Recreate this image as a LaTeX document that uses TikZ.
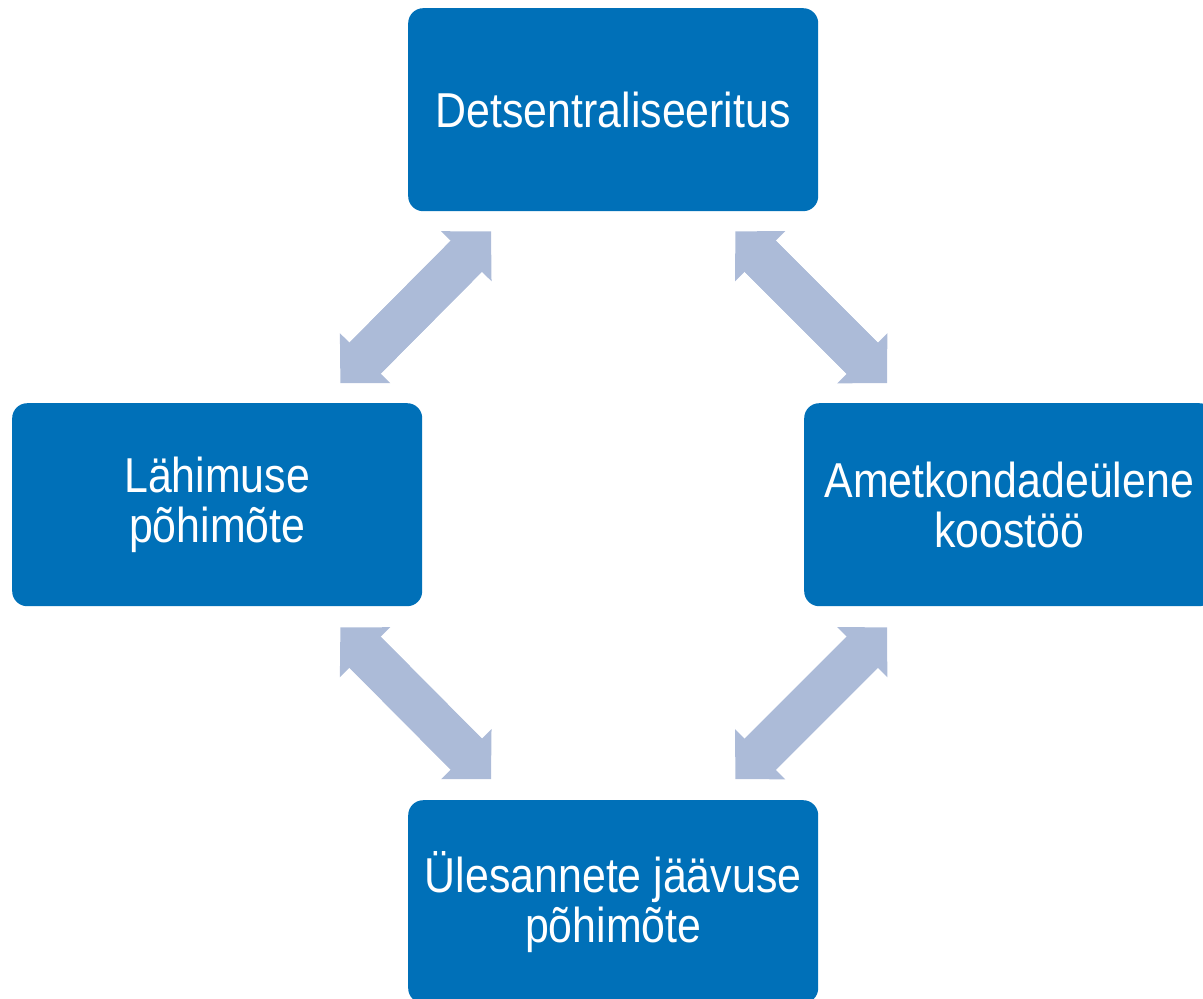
\documentclass[tikz,border=0pt]{standalone}
\usepackage{fontspec}
\setmainfont[FakeStretch=0.875]{Liberation Sans}
\usetikzlibrary{arrows.meta}
\definecolor{boxblue}{RGB}{0,112,184}
\definecolor{arrowblue}{RGB}{172,187,216}
\begin{document}
\begin{tikzpicture}[x=1pt,y=-1pt]
\useasboundingbox (0,0) rectangle (1203,999);
\clip (0,0) rectangle (1203,999);
\begin{scope}

\tikzstyle{box} = [minimum width=410pt,minimum height=203pt,inner sep=0pt,fill=boxblue,rounded corners=15pt,text=white,align=center,font=\fontsize{49}{50}\selectfont];
\tikzstyle{link} = [line width=44pt,arrowblue,{Triangle[length=35pt,width=71pt,line width=0pt]}-{Triangle[length=35pt,width=71pt,line width=0pt]},postaction={draw,arrows=-,shorten >=30pt,shorten <=30pt}];

\node [box,anchor=north west] (s1) at (408,8) {Detsentraliseeritus};
\node [box,anchor=north west] (s2) at (12,403) {Lähimuse\\põhimõte};
\node [box,anchor=north west] (s3) at (804,403) {Ametkondadeülene\\koostöö};
\node [box,anchor=north west] (s4) at (408,800) {Ülesannete jäävuse\\põhimõte};

\draw [link] ([xshift=83pt,yshift=-20pt]s1.south west) -- ([xshift=-82pt,yshift=20pt]s2.north east);
\draw [link] ([xshift=-83pt,yshift=-20pt]s1.south east) -- ([xshift=83pt,yshift=20pt]s3.north west);
\draw [link] ([xshift=-82pt,yshift=-21pt]s2.south east) -- ([xshift=83pt,yshift=21pt]s4.north west);
\draw [link] ([xshift=83pt,yshift=-21pt]s3.south west) -- ([xshift=-83pt,yshift=21pt]s4.north east);

\end{scope}
\end{tikzpicture}
\end{document}
